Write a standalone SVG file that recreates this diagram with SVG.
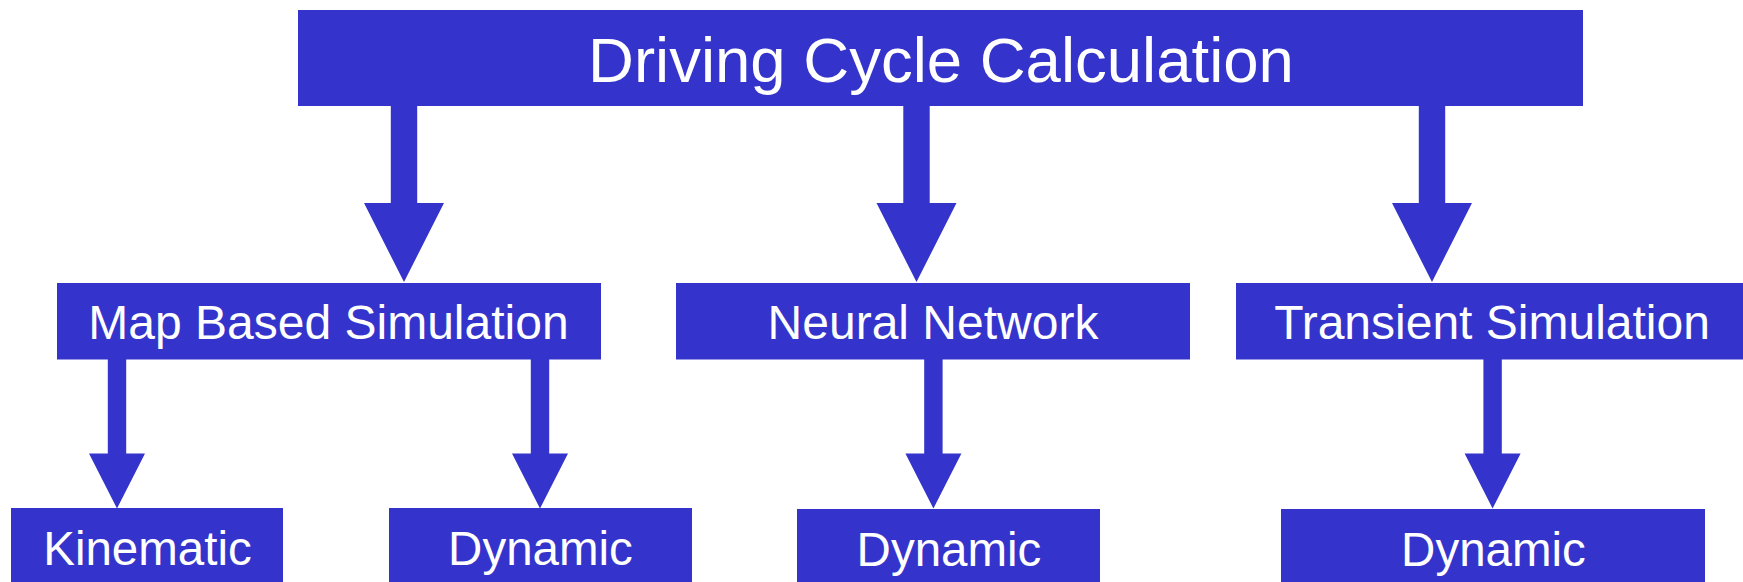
<svg xmlns="http://www.w3.org/2000/svg" width="1743" height="582" viewBox="0 0 1743 582">
<style>
.box{fill:#3434CC}
.arr{fill:#3434CC}
text{font-family:"Liberation Sans",Arial,sans-serif;fill:#FFFFFF;text-anchor:middle}
.t0{font-size:63.5px}
.t1{font-size:48px}
.t2{font-size:47.5px}
</style>
<rect width="1743" height="582" fill="#FFFFFF"/>
<g id="connectors">
<polygon class="arr" points="390.8,106 417.2,106 417.2,203 444,203 404,282 364,203 390.8,203"/>
<polygon class="arr" points="903.3,106 929.7,106 929.7,203 956.5,203 916.5,282 876.5,203 903.3,203"/>
<polygon class="arr" points="1418.8,106 1445.2,106 1445.2,203 1472,203 1432,282 1392,203 1418.8,203"/>
<polygon class="arr" points="107.8,359 126.2,359 126.2,453.5 145,453.5 117,508.5 89,453.5 107.8,453.5"/>
<polygon class="arr" points="530.8,359 549.2,359 549.2,453.5 568,453.5 540,508.5 512,453.5 530.8,453.5"/>
<polygon class="arr" points="924.2,359 942.6,359 942.6,453.5 961.4,453.5 933.4,508.5 905.4,453.5 924.2,453.5"/>
<polygon class="arr" points="1483.4,359 1501.8,359 1501.8,453.5 1520.6,453.5 1492.6,508.5 1464.6,453.5 1483.4,453.5"/>
</g>
<g id="node-top"><rect class="box" x="298" y="10" width="1285" height="96"/><text class="t0" x="941" y="81.5">Driving Cycle Calculation</text></g>
<g id="node-map"><rect class="box" x="57" y="283" width="544" height="76.5"/><text class="t1" x="328.5" y="339">Map Based Simulation</text></g>
<g id="node-neural"><rect class="box" x="676" y="283" width="514" height="76.5"/><text class="t1" x="933" y="339">Neural Network</text></g>
<g id="node-transient"><rect class="box" x="1236" y="283" width="512" height="76.5"/><text class="t1" x="1492" y="339">Transient Simulation</text></g>
<g id="node-kinematic"><rect class="box" x="11" y="508" width="272" height="80"/><text class="t2" x="147.5" y="564.5">Kinematic</text></g>
<g id="node-dynamic1"><rect class="box" x="389" y="508" width="303" height="80"/><text class="t2" x="540.5" y="564.5">Dynamic</text></g>
<g id="node-dynamic2"><rect class="box" x="797" y="509" width="303" height="80"/><text class="t2" x="949" y="565.5">Dynamic</text></g>
<g id="node-dynamic3"><rect class="box" x="1281" y="509" width="424" height="80"/><text class="t2" x="1493.5" y="566">Dynamic</text></g>
</svg>
